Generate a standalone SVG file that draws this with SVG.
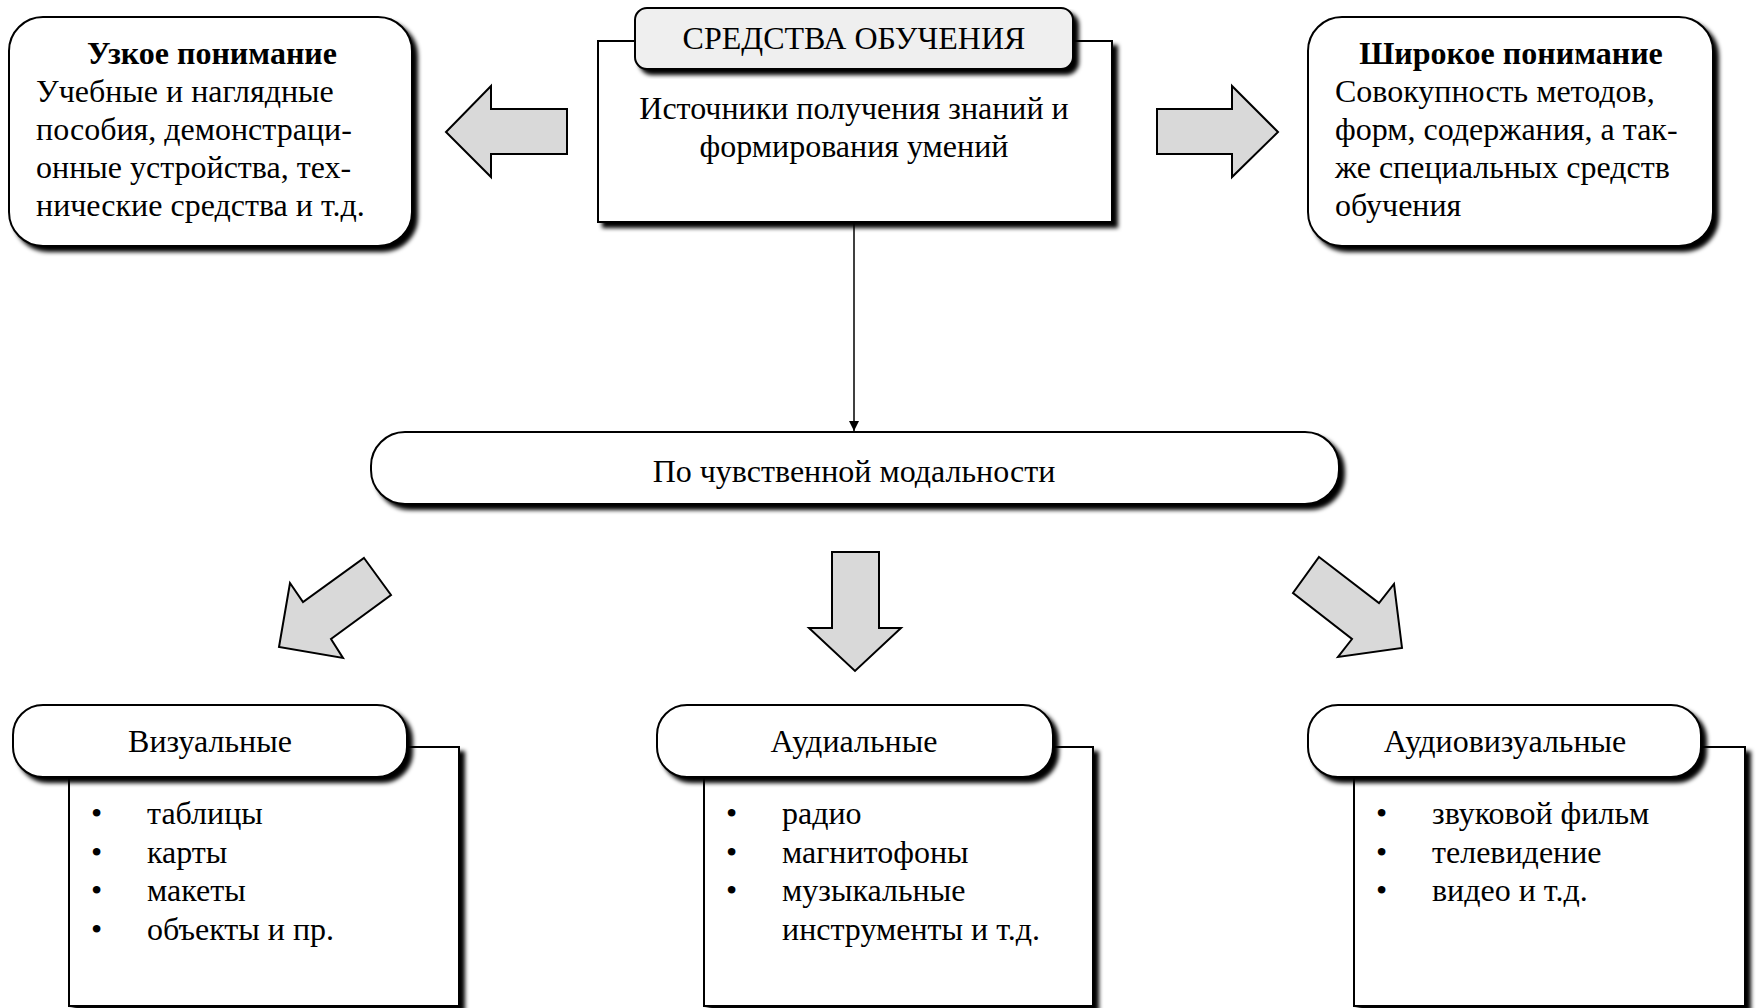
<svg xmlns="http://www.w3.org/2000/svg" width="1756" height="1008" viewBox="0 0 1756 1008">
<style>
text{font-family:"Liberation Serif","Times New Roman",serif;font-size:32px;fill:#000}
.b{font-weight:bold}
.c{text-anchor:middle}
.box{fill:#fff;stroke:#000;stroke-width:2}
.tab{fill:#efefef;stroke:#000;stroke-width:2}
.arr{fill:#d9d9d9;stroke:#000;stroke-width:2;stroke-linejoin:miter}
</style>
<defs>
<filter id="sh" x="-5%" y="-5%" width="115%" height="120%">
<feGaussianBlur in="SourceAlpha" stdDeviation="2.2"/>
<feOffset dx="5" dy="5" result="o"/>
<feMerge><feMergeNode/><feMergeNode in="SourceGraphic"/></feMerge>
</filter>
<marker id="ah" markerWidth="10" markerHeight="14" refX="10" refY="7" orient="auto" markerUnits="userSpaceOnUse">
<path d="M0,2 L10,7 L0,12 Z" fill="#000"/>
</marker>
</defs>
<rect width="1756" height="1008" fill="#fff"/>

<g id="connectors">
<line x1="854" y1="222" x2="854" y2="431" stroke="#000" stroke-width="1.5" marker-end="url(#ah)"/>
<polygon class="arr" points="567,109 491,109 491,86 446,132 491,177 491,154 567,154"/>
<polygon class="arr" points="1157,109 1232,109 1232,86 1278,132 1232,177 1232,154 1157,154"/>
<polygon class="arr" points="832,552 879,552 879,628 901,628 855,671 809,628 832,628"/>
<polygon class="arr" points="364,558 391,595 331,639 343,658 279,647 290,583 303,602"/>
<polygon class="arr" points="1319,557 1379,603 1394,584 1402,648 1338,657 1352,639 1293,593"/>
</g>

<g id="narrow">
<rect class="box" x="9" y="17" width="403" height="229" rx="34" filter="url(#sh)"/>
<text class="b c" x="212" y="64">Узкое понимание</text>
<text x="36" y="102">Учебные и наглядные</text>
<text x="36" y="140">пособия, демонстраци-</text>
<text x="36" y="178">онные устройства, тех-</text>
<text x="36" y="216">нические средства и т.д.</text>
</g>

<g id="center">
<rect class="box" x="598" y="41" width="514" height="181" filter="url(#sh)"/>
<rect class="tab" x="635" y="8" width="438" height="61" rx="12" filter="url(#sh)"/>
<text class="c" x="854" y="49">СРЕДСТВА ОБУЧЕНИЯ</text>
<text class="c" x="854" y="119">Источники получения знаний и</text>
<text class="c" x="854" y="157">формирования умений</text>
</g>

<g id="wide">
<rect class="box" x="1308" y="17" width="405" height="229" rx="34" filter="url(#sh)"/>
<text class="b c" x="1511" y="64">Широкое понимание</text>
<text x="1335" y="102">Совокупность методов,</text>
<text x="1335" y="140">форм, содержания, а так-</text>
<text x="1335" y="178">же специальных средств</text>
<text x="1335" y="216">обучения</text>
</g>

<g id="modality">
<rect class="box" x="371" y="432" width="968" height="72" rx="34" filter="url(#sh)"/>
<text class="c" x="854" y="482">По чувственной модальности</text>
</g>

<g id="visual">
<rect class="box" x="69" y="747" width="390" height="259" filter="url(#sh)"/>
<rect class="box" x="13" y="705" width="394" height="72" rx="30" filter="url(#sh)"/>
<text class="c" x="210" y="752">Визуальные</text>
<text x="91" y="824">•</text><text x="147" y="824">таблицы</text>
<text x="91" y="863">•</text><text x="147" y="863">карты</text>
<text x="91" y="901">•</text><text x="147" y="901">макеты</text>
<text x="91" y="940">•</text><text x="147" y="940">объекты и пр.</text>
</g>

<g id="audial">
<rect class="box" x="704" y="747" width="389" height="259" filter="url(#sh)"/>
<rect class="box" x="657" y="705" width="396" height="72" rx="30" filter="url(#sh)"/>
<text class="c" x="854" y="752">Аудиальные</text>
<text x="726" y="824">•</text><text x="782" y="824">радио</text>
<text x="726" y="863">•</text><text x="782" y="863">магнитофоны</text>
<text x="726" y="901">•</text><text x="782" y="901">музыкальные</text>
<text x="782" y="940">инструменты и т.д.</text>
</g>

<g id="audiovisual">
<rect class="box" x="1354" y="747" width="391" height="259" filter="url(#sh)"/>
<rect class="box" x="1308" y="705" width="393" height="72" rx="30" filter="url(#sh)"/>
<text class="c" x="1505" y="752">Аудиовизуальные</text>
<text x="1376" y="824">•</text><text x="1432" y="824">звуковой фильм</text>
<text x="1376" y="863">•</text><text x="1432" y="863">телевидение</text>
<text x="1376" y="901">•</text><text x="1432" y="901">видео и т.д.</text>
</g>
</svg>
